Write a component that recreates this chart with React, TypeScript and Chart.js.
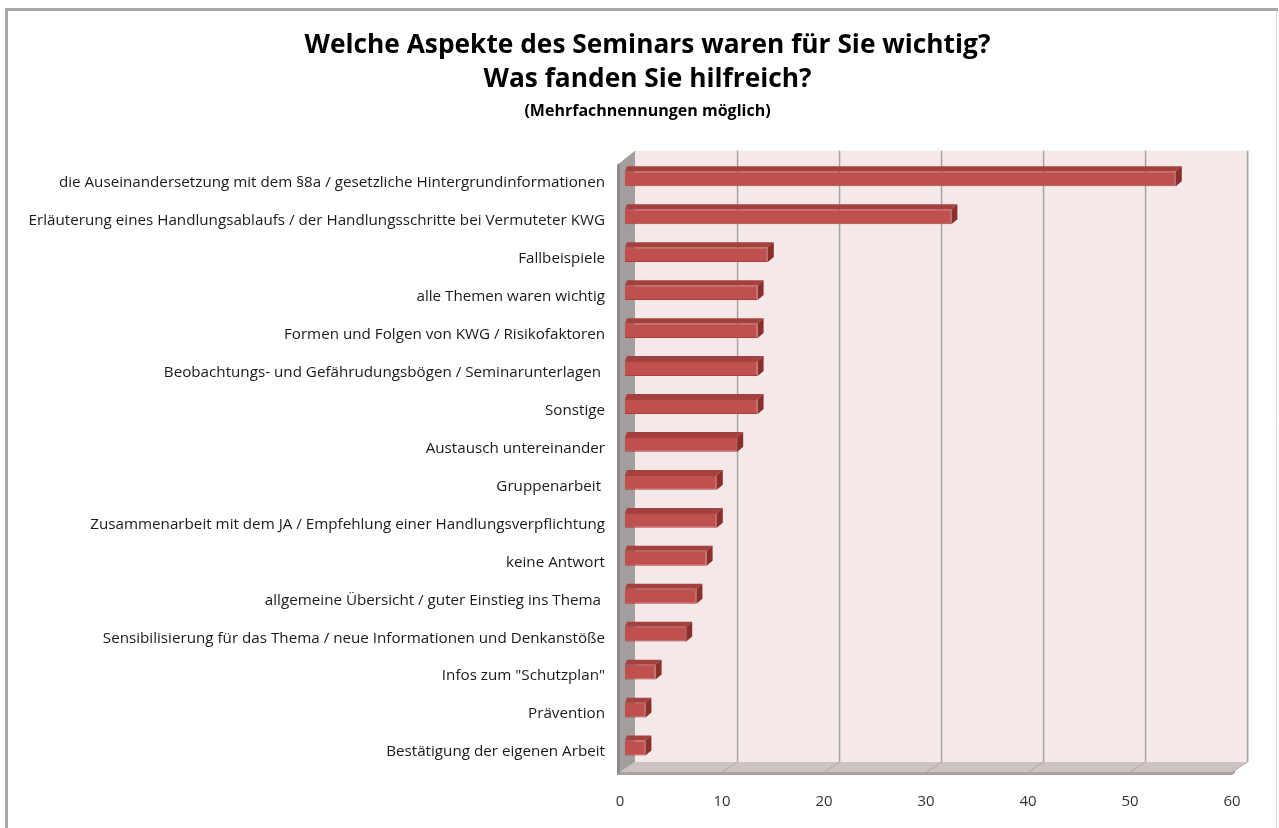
import { useEffect, useRef } from "react";
import { Chart, registerables } from "chart.js";

Chart.register(...registerables);

const categories: string[] = [
  "die Auseinandersetzung mit dem §8a / gesetzliche Hintergrundinformationen",
  "Erläuterung eines Handlungsablaufs / der Handlungsschritte bei Vermuteter KWG",
  "Fallbeispiele",
  "alle Themen waren wichtig",
  "Formen und Folgen von KWG / Risikofaktoren",
  "Beobachtungs- und Gefährudungsbögen / Seminarunterlagen ",
  "Sonstige",
  "Austausch untereinander",
  "Gruppenarbeit ",
  "Zusammenarbeit mit dem JA / Empfehlung einer Handlungsverpflichtung",
  "keine Antwort",
  "allgemeine Übersicht / guter Einstieg ins Thema ",
  "Sensibilisierung für das Thema / neue Informationen und Denkanstöße",
  'Infos zum "Schutzplan"',
  "Prävention",
  "Bestätigung der eigenen Arbeit",
];

const values: number[] = [54, 32, 14, 13, 13, 13, 13, 11, 9, 9, 8, 7, 6, 3, 2, 2];

const xTicks: number[] = [0, 10, 20, 30, 40, 50, 60];

const titleLines: string[] = [
  "Welche Aspekte des Seminars waren für Sie wichtig?",
  "Was fanden Sie hilfreich?",
];
const subtitleText = "(Mehrfachnennungen möglich)";

const FONT = "'Open Sans', 'Noto Sans', sans-serif";

function poly(ctx: CanvasRenderingContext2D, pts: number[][], fill: string) {
  ctx.beginPath();
  ctx.moveTo(pts[0][0], pts[0][1]);
  for (let i = 1; i < pts.length; i++) ctx.lineTo(pts[i][0], pts[i][1]);
  ctx.closePath();
  ctx.fillStyle = fill;
  ctx.fill();
}

const walls3d = {
  id: "walls3d",
  afterLayout(chart: any) {
    // the reference centres its titles slightly right of the canvas centre
    chart.boxes.forEach((b: any) => {
      if (!b.axis && b.options && "text" in b.options && b.position === "top") {
        b.left += 29;
        b.right += 29;
      }
    });
  },
  beforeDraw(chart: any) {
    const { ctx, width, height } = chart;
    ctx.save();
    ctx.fillStyle = "#ffffff";
    ctx.fillRect(0, 0, width, height);
    ctx.strokeStyle = "#a8a8a8";
    ctx.lineWidth = 3;
    ctx.beginPath();
    ctx.moveTo(6.5, height + 5);
    ctx.lineTo(6.5, 9.5);
    ctx.lineTo(1278, 9.5);
    ctx.stroke();
    ctx.strokeStyle = "#d8d8d8";
    ctx.lineWidth = 1;
    ctx.beginPath();
    ctx.moveTo(1276.5, 11);
    ctx.lineTo(1276.5, height);
    ctx.stroke();
    ctx.restore();
  },
  beforeDatasetsDraw(chart: any) {
    const { ctx, chartArea: a, scales } = chart;
    const xs = scales.x;
    const x0 = xs.getPixelForValue(xTicks[0]);
    const x1 = xs.getPixelForValue(xTicks[xTicks.length - 1]);
    const bdx = 10, bT = a.top - 9, bB = a.bottom - 5;
    const fdx = -5, fT = a.top + 3, fB = a.bottom + 5;
    ctx.save();
    // back wall
    poly(ctx, [[x0 + bdx, bT], [x1 + bdx, bT], [x1 + bdx, bB], [x0 + bdx, bB]], "#f5e8e8");
    // floor
    poly(ctx, [[x0 + fdx, fB], [x0 + bdx, bB], [x1 + bdx, bB], [x1 + fdx, fB]], "#cdc3c3");
    poly(ctx, [[x0 + fdx - 3, fB], [x1 + fdx, fB], [x1 + fdx + 3, fB - 2], [x1 + fdx + 3, fB + 1], [x1 + fdx, fB + 3], [x0 + fdx - 3, fB + 3]], "#aaa2a2");
    // gridlines
    xTicks.forEach((v) => {
      if (v === xTicks[0]) return;
      const px = Math.round(xs.getPixelForValue(v));
      ctx.strokeStyle = "#a3a3a3";
      ctx.lineWidth = 1.3;
      ctx.beginPath();
      ctx.moveTo(px + bdx + 0.5, bT);
      ctx.lineTo(px + bdx + 0.5, bB);
      ctx.stroke();
      ctx.strokeStyle = "#ddd3d3";
      ctx.lineWidth = 1;
      ctx.beginPath();
      ctx.moveTo(px + bdx + 1.5, bT);
      ctx.lineTo(px + bdx + 1.5, bB);
      ctx.stroke();
      ctx.strokeStyle = "#ada5a5";
      ctx.lineWidth = 1;
      ctx.beginPath();
      ctx.moveTo(px + bdx + 0.5, bB);
      ctx.lineTo(px + fdx + 0.5, fB);
      ctx.stroke();
    });
    // left wall
    poly(ctx, [[x0 + fdx, fT], [x0 + bdx, bT], [x0 + bdx, bB], [x0 + fdx, fB]], "#a39d9d");
    poly(ctx, [[x0 + fdx - 3, fT + 2], [x0 + fdx, fT], [x0 + fdx, fB], [x0 + fdx - 3, fB + 3]], "#8f8989");
    ctx.restore();
  },
  afterDatasetsDraw(chart: any) {
    const { ctx } = chart;
    const meta = chart.getDatasetMeta(0);
    const dx = 6, dy = 5;
    ctx.save();
    meta.data.forEach((bar: any) => {
      const { x, y, base, height } = bar.getProps(["x", "y", "base", "height"], true);
      const top = y - height / 2;
      const bot = y + height / 2;
      poly(ctx, [[base, top], [x, top], [x + dx, top - dy], [base + 2, top - dy]], "#a4403d");
      poly(ctx, [[x, top], [x + dx, top - dy], [x + dx, bot - dy], [x, bot]], "#8a2f2c");
    });
    ctx.restore();
  },
};

export default function App() {
  const canvasRef = useRef<HTMLCanvasElement | null>(null);

  useEffect(() => {
    if (!canvasRef.current) return;
    const chart = new Chart(canvasRef.current, {
      type: "bar",
      data: {
        labels: categories,
        datasets: [
          {
            data: values,
            backgroundColor: "#c0504d",
            borderColor: "#a8413e",
            borderWidth: 1,
            categoryPercentage: 0.8,
            barPercentage: 0.49,
          },
        ],
      },
      options: {
        indexAxis: "y",
        animation: false,
        responsive: true,
        maintainAspectRatio: false,
        events: [],
        layout: { padding: { top: 0, left: 0, right: 42, bottom: 0 } },
        plugins: {
          legend: { display: false },
          tooltip: { enabled: false },
          title: {
            display: true,
            text: titleLines,
            color: "#000000",
            font: { family: FONT, size: 26.3, weight: "bold", lineHeight: 34 / 26.3 },
            padding: { top: 29, bottom: 0 },
          },
          subtitle: {
            display: true,
            text: subtitleText,
            color: "#000000",
            font: { family: FONT, size: 16, weight: "bold", lineHeight: 1.2 },
            padding: { top: 5, bottom: 38.6 },
          },
        },
        scales: {
          x: {
            type: "linear",
            min: xTicks[0],
            max: xTicks[xTicks.length - 1],
            afterBuildTicks: (s: any) => {
              s.ticks = xTicks.map((v) => ({ value: v }));
            },
            afterFit: (s: any) => {
              s.height = 61;
            },
            grid: { display: false, drawTicks: false },
            border: { display: false },
            ticks: {
              color: "#333333",
              padding: 26,
              labelOffset: -5,
              font: { family: FONT, size: 15 },
            },
          },
          y: {
            type: "category",
            grid: { display: false, drawTicks: false },
            border: { display: false },
            afterFit: (s: any) => {
              s.width = 625;
            },
            ticks: {
              color: "#1a1a1a",
              padding: 20,
              labelOffset: 4,
              autoSkip: false,
              font: { family: FONT, size: 15.2 },
            },
          },
        },
      },
      plugins: [walls3d],
    });
    return () => chart.destroy();
  }, []);

  return (
    <div style={{ position: "fixed", left: 0, top: 0, width: 1279, height: 828, background: "#fff" }}>
      <canvas ref={canvasRef} />
    </div>
  );
}
